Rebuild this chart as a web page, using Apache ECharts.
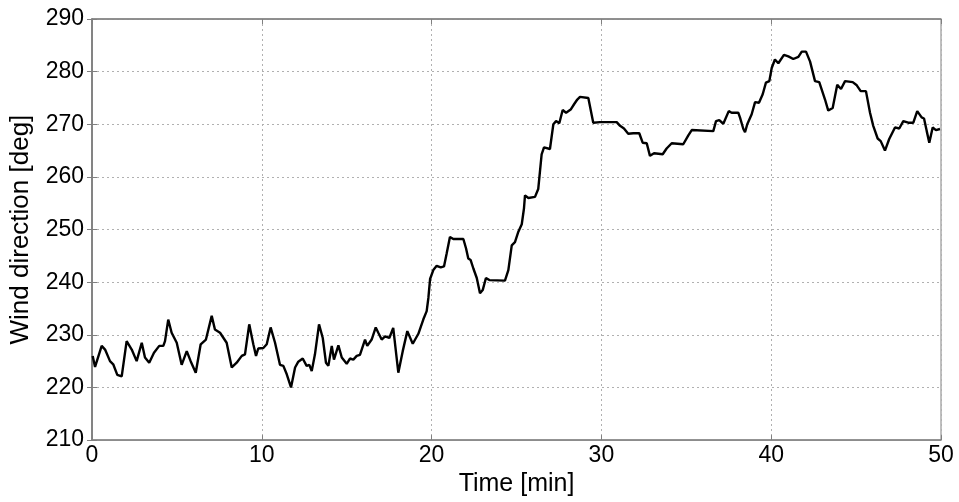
<!DOCTYPE html>
<html>
<head>
<meta charset="utf-8">
<script src="https://cdn.jsdelivr.net/npm/echarts@6/dist/echarts.min.js"></script>
<style>html,body{margin:0;padding:0;background:#fff}#c{width:959px;height:502px}</style>
</head>
<body>
<div id="c"></div>
<script>
const xTicks = [0, 10, 20, 30, 40, 50];
const yTicks = [210, 220, 230, 240, 250, 260, 270, 280, 290];
const timeMin = [0.04,0.18,0.57,0.77,1.06,1.25,1.49,1.75,2.04,2.34,2.63,2.93,3.12,3.37,3.65,3.96,4.20,4.30,4.49,4.69,4.99,5.28,5.58,5.81,6.11,6.40,6.71,7.05,7.24,7.54,7.93,8.23,8.52,8.82,9.01,9.26,9.50,9.66,9.79,10.09,10.29,10.52,10.78,11.07,11.27,11.47,11.72,11.96,12.15,12.41,12.64,12.80,12.94,13.13,13.37,13.59,13.78,13.92,14.12,14.25,14.51,14.71,15.00,15.19,15.39,15.59,15.78,16.08,16.21,16.47,16.71,16.86,17.06,17.26,17.51,17.74,18.04,18.30,18.57,18.89,19.22,19.51,19.71,19.81,19.91,20.10,20.30,20.54,20.73,20.89,21.08,21.28,21.87,22.03,22.16,22.30,22.46,22.66,22.85,23.01,23.20,23.40,24.32,24.52,24.72,24.91,25.11,25.31,25.44,25.50,25.70,26.09,26.28,26.48,26.62,26.97,27.17,27.33,27.52,27.72,27.92,28.19,28.39,28.58,28.74,29.23,29.52,29.92,30.90,31.10,31.33,31.58,31.88,32.23,32.43,32.67,32.86,33.10,33.61,33.84,34.14,34.82,35.12,35.32,36.59,36.75,36.94,37.18,37.50,37.67,38.06,38.16,38.36,38.46,38.59,38.85,39.05,39.28,39.50,39.69,39.89,40.03,40.22,40.42,40.75,41.01,41.30,41.60,41.80,42.05,42.29,42.58,42.83,43.17,43.36,43.62,43.89,44.11,44.35,44.80,45.04,45.27,45.58,45.82,46.01,46.27,46.45,46.70,46.95,47.29,47.54,47.78,48.07,48.37,48.60,48.86,49.00,49.16,49.31,49.51,49.70,49.94];
const windDeg = [226.0,223.9,227.9,227.2,225.0,224.4,222.4,222.1,228.8,227.2,225.0,228.5,225.7,224.7,226.6,227.9,227.9,228.8,232.9,230.4,228.5,224.3,226.9,225.0,222.8,228.2,229.1,233.6,231.0,230.4,228.5,223.8,224.7,226.0,226.3,232.0,228.2,226.0,227.4,227.5,228.2,231.4,228.5,224.3,224.1,222.5,220.0,223.8,224.9,225.5,224.1,224.3,223.1,226.3,232.0,229.4,224.7,224.1,227.9,225.3,228.0,225.7,224.5,225.5,225.3,226.0,226.2,229.1,227.9,229.1,231.4,230.4,229.1,229.7,229.4,231.3,222.8,226.9,230.7,228.3,230.2,232.9,234.5,237.0,240.6,242.3,243.1,242.8,243.0,245.5,248.6,248.2,248.2,246.4,244.5,244.2,242.6,240.8,237.9,238.5,240.8,240.4,240.3,242.3,247.0,247.6,249.6,251.0,254.0,256.5,256.0,256.2,257.7,264.3,265.6,265.3,270.0,270.6,270.2,272.7,272.2,272.8,273.8,274.7,275.2,275.0,270.3,270.4,270.4,269.7,269.2,268.2,268.3,268.3,266.5,266.4,264.0,264.5,264.3,265.4,266.4,266.2,267.9,268.9,268.7,270.6,270.8,270.1,272.5,272.2,272.2,271.3,269.1,268.5,270.0,271.9,274.2,274.1,275.7,277.9,278.2,280.7,282.3,281.6,283.2,282.9,282.4,282.8,283.8,283.8,281.9,278.2,278.0,274.7,272.6,273.1,277.5,276.7,278.2,278.0,277.4,276.3,276.3,272.2,269.7,267.3,266.8,265.0,267.2,269.4,269.2,270.6,270.3,270.3,272.5,271.3,271.1,268.7,266.5,269.4,268.9,269.1];

const seriesData = timeMin.map((t, i) => [t, windDeg[i]]);
const font = 'Liberation Sans, Arial, sans-serif';
const chart = echarts.init(document.getElementById('c'), null, {renderer: 'canvas'});
const gridLine = {show: true, lineStyle: {color: '#b0b0b0', type: [2, 3], width: 1}};
chart.setOption({
  animation: false,
  backgroundColor: '#ffffff',
  grid: {left: 92, right: 18, top: 19, bottom: 59, show: true, borderColor: '#808080', borderWidth: 1, backgroundColor: 'transparent'},
  xAxis: [{
    type: 'value', min: xTicks[0], max: xTicks[xTicks.length - 1], interval: 10,
    name: 'Time [min]', nameLocation: 'middle', nameGap: 28,
    nameTextStyle: {fontFamily: font, fontSize: 25, color: '#000'},
    axisLine: {show: true, lineStyle: {color: '#808080', width: 1.5}},
    axisTick: {show: true, inside: true, length: 5, lineStyle: {color: '#808080'}},
    axisLabel: {fontFamily: font, fontSize: 23, color: '#000', margin: 4},
    splitLine: gridLine
  }, {
    type: 'value', position: 'top', min: xTicks[0], max: xTicks[xTicks.length - 1], interval: 10,
    axisLine: {show: true, lineStyle: {color: '#808080', width: 1.5}},
    axisTick: {show: true, inside: true, length: 5, lineStyle: {color: '#808080'}},
    axisLabel: {show: false}, splitLine: {show: false}
  }],
  yAxis: [{
    type: 'value', min: yTicks[0], max: yTicks[yTicks.length - 1], interval: 10,
    name: 'Wind direction [deg]', nameLocation: 'middle', nameGap: 58, nameRotate: 90,
    nameTextStyle: {fontFamily: font, fontSize: 26, color: '#000'},
    axisLine: {show: true, lineStyle: {color: '#808080', width: 1.5}},
    axisTick: {show: true, inside: true, length: 5, lineStyle: {color: '#808080'}},
    axisLabel: {fontFamily: font, fontSize: 23, color: '#000', margin: 8},
    splitLine: gridLine
  }, {
    type: 'value', position: 'right', min: yTicks[0], max: yTicks[yTicks.length - 1], interval: 10,
    axisLine: {show: true, lineStyle: {color: '#808080', width: 1.5}},
    axisTick: {show: true, inside: true, length: 5, lineStyle: {color: '#808080'}},
    axisLabel: {show: false}, splitLine: {show: false}
  }],
  series: [{
    type: 'line', data: seriesData, xAxisIndex: 0, yAxisIndex: 0,
    showSymbol: false, smooth: false,
    lineStyle: {color: '#000', width: 2.4}
  }]
});
</script>
</body>
</html>
